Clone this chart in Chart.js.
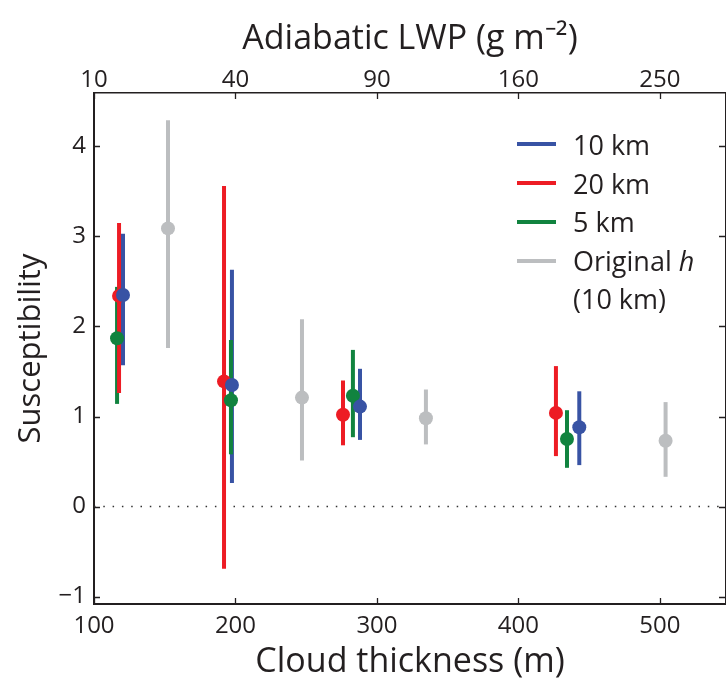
<!DOCTYPE html>
<html>
<head>
<meta charset="utf-8">
<script src="https://cdn.jsdelivr.net/npm/chart.js@4.4.1/dist/chart.umd.min.js"></script>
<style>
  html, body { margin: 0; padding: 0; background: #fff; }
  #wrap { position: relative; width: 726px; height: 679px; overflow: hidden; }
  #legend { position: absolute; left: 517px; top: 125px; font-family: 'Open Sans', sans-serif; font-size: 27px; color: #231f20; }
  .row { display: flex; align-items: center; height: 38.8px; white-space: nowrap; }
  .swatch { width: 39px; height: 4px; margin-right: 17px; flex: none; }
  .note { margin-left: 56px; height: 38.8px; line-height: 38.8px; white-space: nowrap; }
</style>
</head>
<body>
<div id="wrap">
  <canvas id="chart" width="726" height="679"></canvas>
  <div id="legend"></div>
</div>
<script>
// axis ticks
const X_TICKS = [100, 200, 300, 400, 500];
const LWP_LABELS = ['10', '40', '90', '160', '250'];
const Y_TICKS = [-1, 0, 1, 2, 3, 4];

// 10 km
const km10Thickness = [120.5, 197.5, 288, 443];
const km10Susc = [2.35, 1.35, 1.11, 0.88];
const km10Low = [1.57, 0.26, 0.74, 0.46];
const km10High = [3.03, 2.63, 1.53, 1.28];

// 20 km
const km20Thickness = [117.7, 191.9, 276, 426.5];
const km20Susc = [2.34, 1.39, 1.02, 1.04];
const km20Low = [1.26, -0.69, 0.68, 0.56];
const km20High = [3.15, 3.56, 1.40, 1.56];

// 5 km
const km5Thickness = [116.3, 196.8, 283, 434.3];
const km5Susc = [1.87, 1.18, 1.23, 0.75];
const km5Low = [1.14, 0.58, 0.77, 0.43];
const km5High = [2.44, 1.85, 1.74, 1.07];

// original h (10 km)
const origThickness = [152.3, 247, 334.6, 504];
const origSusc = [3.09, 1.21, 0.98, 0.73];
const origLow = [1.76, 0.51, 0.69, 0.33];
const origHigh = [4.29, 2.08, 1.30, 1.16];

const ZERO_LINE_X = [100, 547];

const SERIES_NAMES = ['10 km', '20 km', '5 km', 'Original', '(10 km)'];
const COLORS = ['#3853a4', '#ed1c24', '#11833f', '#bcbec0'];

const TEXT = '#231f20';
const FONT = "'Open Sans', sans-serif";

function errorBars(xs, lows, highs, color) {
    return xs.map((x, i) => ({
        type: 'line',
        data: [{ x: x, y: lows[i] }, { x: x, y: highs[i] }],
        borderColor: color,
        borderWidth: 4,
        borderCapStyle: 'butt',
        pointRadius: 0,
        order: 5
    }));
}

function dots(xs, ys, color) {
    return {
        type: 'scatter',
        data: xs.map((x, i) => ({ x: x, y: ys[i] })),
        backgroundColor: color,
        borderColor: color,
        borderWidth: 0,
        pointRadius: 7,
        pointHoverRadius: 7,
        order: 1
    };
}

const datasets = [
    {
        type: 'line',
        data: ZERO_LINE_X.map(x => ({ x: x, y: 0 })),
        borderColor: '#333',
        borderWidth: 1.5,
        borderDash: [1.5, 7.8],
        pointRadius: 0,
        order: 9
    },
    ...errorBars(origThickness, origLow, origHigh, COLORS[3]),
    ...errorBars(km20Thickness, km20Low, km20High, COLORS[1]),
    ...errorBars(km5Thickness, km5Low, km5High, COLORS[2]),
    ...errorBars(km10Thickness, km10Low, km10High, COLORS[0]),
    dots(km10Thickness, km10Susc, COLORS[0]),
    dots(km5Thickness, km5Susc, COLORS[2]),
    dots(km20Thickness, km20Susc, COLORS[1]),
    dots(origThickness, origSusc, COLORS[3])
];

// short inward tick marks on all four sides
const inwardTicks = {
    id: 'inwardTicks',
    afterDraw(chart) {
        const { ctx, chartArea: a, scales } = chart;
        const len = 6;
        ctx.save();
        ctx.strokeStyle = TEXT;
        ctx.lineWidth = 1.3;
        ctx.beginPath();
        X_TICKS.forEach(v => {
            const px = Math.round(scales.x.getPixelForValue(v)) + 0.5;
            ctx.moveTo(px, a.bottom); ctx.lineTo(px, a.bottom - len);
            ctx.moveTo(px, a.top); ctx.lineTo(px, a.top + len);
        });
        Y_TICKS.forEach(v => {
            const py = Math.round(scales.y.getPixelForValue(v)) + 0.5;
            ctx.moveTo(a.left, py); ctx.lineTo(a.left + len, py);
            ctx.moveTo(a.right - 1, py); ctx.lineTo(a.right - 1 - len, py);
        });
        ctx.stroke();
        ctx.restore();
    }
};

const tickFont = { family: FONT, size: 24 };
const titleFont = { family: FONT, size: 34, lineHeight: 1 };

new Chart(document.getElementById('chart'), {
    data: { datasets: datasets },
    options: {
        responsive: false,
        animation: false,
        layout: { padding: 0, autoPadding: false },
        plugins: { legend: { display: false }, tooltip: { enabled: false } },
        scales: {
            x: {
                type: 'linear', position: 'bottom', min: 100, max: 546.7,
                afterBuildTicks: s => { s.ticks = X_TICKS.map(v => ({ value: v })); },
                afterFit: s => { s.height = 75; },
                ticks: { font: tickFont, color: TEXT, padding: 8, maxRotation: 0 },
                grid: { display: false, drawTicks: false },
                border: { display: true, color: TEXT, width: 2 },
                title: { display: true, text: 'Cloud thickness (m)', font: titleFont, color: TEXT, padding: { top: 0, bottom: 0 } }
            },
            x2: {
                type: 'linear', position: 'top', min: 100, max: 546.7,
                afterBuildTicks: s => { s.ticks = X_TICKS.map(v => ({ value: v })); },
                afterFit: s => { s.height = 93; },
                ticks: { font: tickFont, color: TEXT, padding: -2, maxRotation: 0, callback: (v, i) => LWP_LABELS[i] },
                grid: { display: false, drawTicks: false },
                border: { display: true, color: TEXT, width: 1.5 },
                title: { display: true, text: 'Adiabatic LWP (g m\u207B\u00B2)', font: titleFont, color: TEXT, padding: { top: 22, bottom: 0 } }
            },
            y: {
                type: 'linear', position: 'left', min: -1.083, max: 4.594,
                afterBuildTicks: s => { s.ticks = Y_TICKS.map(v => ({ value: v })); },
                afterFit: s => { s.width = 94; },
                ticks: { font: tickFont, color: TEXT, padding: 8, callback: v => v < 0 ? '\u2212' + (-v) : String(v) },
                grid: { display: false, drawTicks: false },
                border: { display: true, color: TEXT, width: 2 },
                title: { display: true, text: 'Susceptibility', font: { family: FONT, size: 31, lineHeight: 1 }, color: TEXT, padding: { top: 16, bottom: 0 } }
            },
            y2: {
                type: 'linear', position: 'right', min: -1.083, max: 4.594,
                afterFit: s => { s.width = 0; },
                ticks: { display: false },
                grid: { display: false, drawTicks: false },
                border: { display: true, color: TEXT, width: 1.5 }
            }
        }
    },
    plugins: [inwardTicks]
});

// legend drawn inside the plot area
const legend = document.getElementById('legend');
SERIES_NAMES.slice(0, 4).forEach((name, i) => {
    const row = document.createElement('div');
    row.className = 'row';
    const sw = document.createElement('span');
    sw.className = 'swatch';
    sw.style.background = COLORS[i];
    const label = document.createElement('span');
    label.textContent = name;
    if (i === 3) {
        const h = document.createElement('i');
        h.textContent = ' h';
        label.appendChild(h);
    }
    row.appendChild(sw);
    row.appendChild(label);
    legend.appendChild(row);
});
const note = document.createElement('div');
note.className = 'note';
note.textContent = SERIES_NAMES[4];
legend.appendChild(note);
</script>
</body>
</html>
